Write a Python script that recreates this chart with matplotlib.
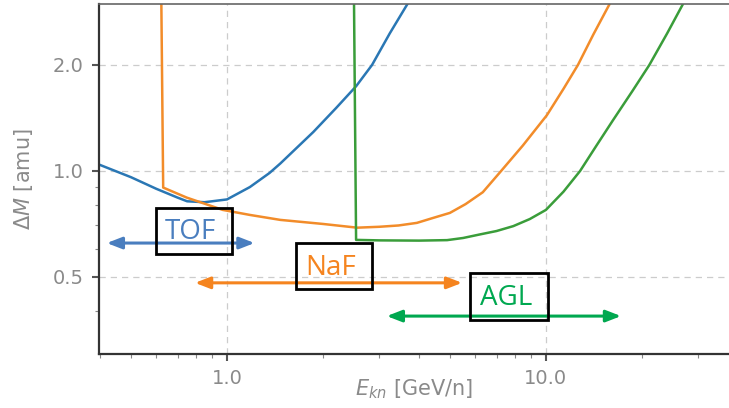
import numpy as np
import matplotlib.pyplot as plt
from matplotlib.patches import Rectangle
from matplotlib.ticker import FixedLocator, FixedFormatter, LogLocator, NullFormatter

# curve data
tof_e = [0.40, 0.50, 0.60, 0.70, 0.75, 0.85, 1.00, 1.18, 1.36, 1.47, 1.865, 2.2, 2.54, 2.85, 3.24, 3.68, 3.9]
tof_dm = [1.04, 0.96, 0.89, 0.84, 0.82, 0.815, 0.83, 0.90, 0.987, 1.05, 1.29, 1.51, 1.74, 2.00, 2.46, 2.98, 3.30]

naf_e = [0.622, 0.631, 0.748, 0.97, 1.18, 1.47, 2.00, 2.56, 3.00, 3.45, 3.94, 4.42, 5.00, 5.60, 6.34,
         7.17, 8.46, 10.07, 11.35, 12.6, 14.08, 15.9, 16.5]
naf_dm = [3.30, 0.897, 0.84, 0.775, 0.75, 0.726, 0.707, 0.69, 0.694, 0.70, 0.712, 0.735, 0.76, 0.805, 0.87,
          0.99, 1.18, 1.44, 1.71, 2.00, 2.44, 3.00, 3.20]

agl_e = [2.50, 2.54, 3.00, 4.00, 4.90, 5.50, 6.20, 7.00, 7.90, 8.90, 10.0, 11.35, 12.8, 14.4, 16.2, 18.7,
         21.1, 24.0, 26.9, 28.0]
agl_dm = [3.30, 0.637, 0.635, 0.634, 0.636, 0.645, 0.66, 0.675, 0.697, 0.73, 0.775, 0.873, 1.00, 1.18,
          1.39, 1.69, 2.00, 2.46, 2.98, 3.20]

x_ticks = [1.0, 10.0]
x_labels = ["1.0", "10.0"]
y_ticks = [0.5, 1.0, 2.0]
y_labels = ["0.5", "1.0", "2.0"]

fig = plt.figure(figsize=(7.29, 4.08), dpi=100)
ax = fig.add_axes([99 / 729, 54 / 408, 630 / 729, 350 / 408])

ax.plot(tof_e, tof_dm, color="#2a77b4", lw=1.8)
ax.plot(naf_e, naf_dm, color="#f28c2a", lw=1.8)
ax.plot(agl_e, agl_dm, color="#3a9d3a", lw=1.8)

ax.set_xscale("log")
ax.set_yscale("log")
ax.set_xlim(0.397, 37.5)
ax.set_ylim(0.302, 2.98)

ax.xaxis.set_major_locator(FixedLocator(x_ticks))
ax.xaxis.set_major_formatter(FixedFormatter(x_labels))
ax.yaxis.set_major_locator(FixedLocator(y_ticks))
ax.yaxis.set_major_formatter(FixedFormatter(y_labels))
ax.xaxis.set_minor_locator(LogLocator(subs=np.arange(2, 10)))
ax.yaxis.set_minor_locator(LogLocator(subs=np.arange(2, 10)))
ax.xaxis.set_minor_formatter(NullFormatter())
ax.yaxis.set_minor_formatter(NullFormatter())

ax.grid(True, which="major", ls=(0, (5, 4)), color="#cccccc", lw=0.9)
ax.tick_params(which="major", direction="out", length=5, width=1.5, color="#555555",
               labelcolor="#8a8a8a", labelsize=14, pad=6)
ax.tick_params(which="minor", direction="out", length=3, width=0.8, color="#888888")

for s in ["left", "bottom"]:
    ax.spines[s].set_color("#333333")
    ax.spines[s].set_linewidth(1.6)
ax.spines["top"].set_color("#666666")
ax.spines["top"].set_linewidth(1.2)
ax.spines["right"].set_visible(False)

ax.set_xlabel(r"$E_{kn}$ [GeV/n]", fontsize=15, color="#8a8a8a", va="center")
ax.set_ylabel(r"$\Delta M$ [amu]", fontsize=15, color="#8a8a8a", va="center")
ax.xaxis.set_label_coords(0.5, -0.100)
ax.yaxis.set_label_coords(-0.120, 0.5)

# range arrows
arrows = [
    (0.42, 1.22, 0.624, "#4a7ebf"),
    (0.794, 5.46, 0.481, "#f5841f"),
    (3.17, 17.2, 0.387, "#00a850"),
]
for x0, x1, yv, c in arrows:
    ax.annotate("", xy=(x1, yv), xytext=(x0, yv),
                arrowprops=dict(arrowstyle="<|-|>,head_length=0.9,head_width=0.35",
                                color=c, lw=2.2, shrinkA=0, shrinkB=0))

# labelled boxes
boxes = [
    ("TOF", 0.599, 1.037, 0.581, 0.785, 0.766, 0.671, "#4a7ebf"),
    ("NaF", 1.645, 2.846, 0.462, 0.624, 2.118, 0.530, "#f5841f"),
    ("AGL", 5.78, 10.15, 0.377, 0.513, 7.5, 0.436, "#00a850"),
]
for name, bx0, bx1, by0, by1, tx, ty, c in boxes:
    ax.add_patch(Rectangle((bx0, by0), bx1 - bx0, by1 - by0, fill=False,
                           edgecolor="black", lw=2, zorder=5))
    ax.text(tx, ty, name, color=c, fontsize=20, family="Open Sans",
            ha="center", va="center", zorder=6)

fig.savefig("out.png", dpi=100)
